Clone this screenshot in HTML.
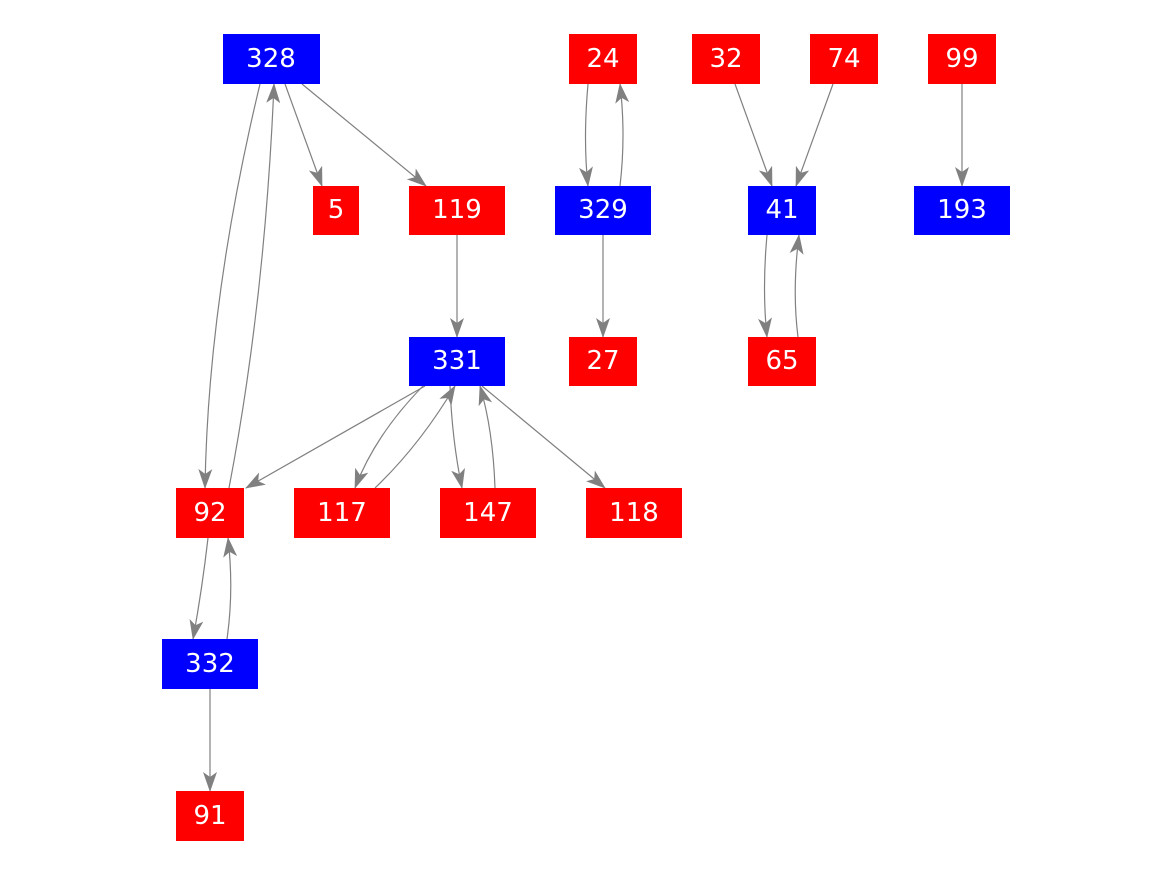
<!DOCTYPE html>
<html><head><style>
html,body{margin:0;padding:0;background:#fff;}
svg{display:block;}
text{font-family:"DejaVu Sans","Liberation Sans",sans-serif;font-size:26px;fill:#fff;text-anchor:middle;dominant-baseline:central;}
</style></head><body>
<svg width="1167" height="875" viewBox="0 0 1167 875" xmlns="http://www.w3.org/2000/svg">
<defs>
<marker id="a" markerUnits="userSpaceOnUse" markerWidth="20" markerHeight="14" refX="19" refY="7" orient="auto" viewBox="0 0 20 14">
<path d="M0,0 L20,7 L0,14 L5,7 Z" fill="#808080"/>
</marker>
</defs>
<g fill="none" stroke="#808080" stroke-width="1.2" marker-end="url(#a)">
<path d="M285,84 L322,186"/>
<path d="M302,84 L426,186"/>
<path d="M260,84 Q208,300 205,488"/>
<path d="M229,488 Q265,300 274,84"/>
<path d="M588,84 Q583,140 588,186"/>
<path d="M620,186 Q626,135 620,84"/>
<path d="M735,84 L772,186"/>
<path d="M833,84 L796,186"/>
<path d="M962,84 L962,186"/>
<path d="M767,235 Q762,290 767,337"/>
<path d="M798,337 Q792,290 799,235"/>
<path d="M457,235 L457,337"/>
<path d="M603,235 L603,337"/>
<path d="M425,386 L246,488"/>
<path d="M423,386 Q375,435 355,488"/>
<path d="M375,488 Q420,445 455,386"/>
<path d="M450,386 Q452,440 462,488"/>
<path d="M495,488 Q493,430 480,386"/>
<path d="M482,386 L605,488"/>
<path d="M208,538 Q202,590 193,639"/>
<path d="M227,639 Q234,590 228,538"/>
<path d="M210,689 L210,791"/>
</g>
<g>
<rect x="223" y="34" width="97" height="50" fill="#0000ff"/><text x="271" y="59">328</text>
<rect x="569" y="34" width="68" height="50" fill="#ff0000"/><text x="603" y="59">24</text>
<rect x="692" y="34" width="68" height="50" fill="#ff0000"/><text x="726" y="59">32</text>
<rect x="810" y="34" width="68" height="50" fill="#ff0000"/><text x="844" y="59">74</text>
<rect x="928" y="34" width="68" height="50" fill="#ff0000"/><text x="962" y="59">99</text>
<rect x="313" y="186" width="46" height="49" fill="#ff0000"/><text x="336" y="210">5</text>
<rect x="409" y="186" width="96" height="49" fill="#ff0000"/><text x="457" y="210">119</text>
<rect x="555" y="186" width="96" height="49" fill="#0000ff"/><text x="603" y="210">329</text>
<rect x="748" y="186" width="68" height="49" fill="#0000ff"/><text x="782" y="210">41</text>
<rect x="914" y="186" width="96" height="49" fill="#0000ff"/><text x="962" y="210">193</text>
<rect x="409" y="337" width="96" height="49" fill="#0000ff"/><text x="457" y="361">331</text>
<rect x="569" y="337" width="68" height="49" fill="#ff0000"/><text x="603" y="361">27</text>
<rect x="748" y="337" width="68" height="49" fill="#ff0000"/><text x="782" y="361">65</text>
<rect x="176" y="488" width="68" height="50" fill="#ff0000"/><text x="210" y="513">92</text>
<rect x="294" y="488" width="96" height="50" fill="#ff0000"/><text x="342" y="513">117</text>
<rect x="440" y="488" width="96" height="50" fill="#ff0000"/><text x="488" y="513">147</text>
<rect x="586" y="488" width="96" height="50" fill="#ff0000"/><text x="634" y="513">118</text>
<rect x="162" y="639" width="96" height="50" fill="#0000ff"/><text x="210" y="664">332</text>
<rect x="176" y="791" width="68" height="50" fill="#ff0000"/><text x="210" y="816">91</text>
</g>
</svg>
</body></html>
